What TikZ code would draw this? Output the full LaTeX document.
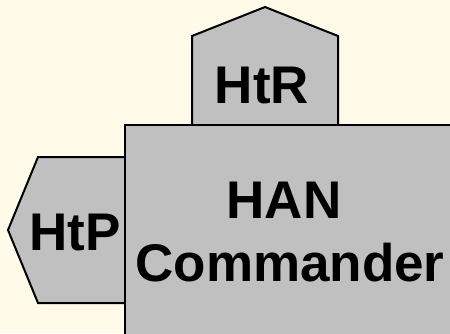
\documentclass[tikz,border=0pt]{standalone}
\usepackage{fontspec}
\setmainfont{Liberation Sans}
\definecolor{paper}{HTML}{FFFBE8}
\definecolor{boxgray}{HTML}{C0C0C0}
\tikzset{
  part/.style={draw=black, line width=2pt, fill=boxgray, line join=miter},
  label/.style={font=\bfseries\fontsize{53}{63}\selectfont, text=black, inner sep=0pt, anchor=base}
}
\begin{document}
\begin{tikzpicture}[x=1pt, y=-1pt]
  \useasboundingbox (0,0) rectangle (450,333);
  \fill[paper] (0,0) rectangle (450,333);
  \clip (0,0) rectangle (450,333);
  % receiver tab on top
  \draw[part] (192,125) -- (192,36) -- (265,7) -- (338,36) -- (338,125);
  % sender tab on the left
  \draw[part] (125,157) -- (38,157) -- (8,230) -- (38,303) -- (125,303);
  % main commander block, running off the right and bottom edges
  \draw[part] (125,345) -- (125,125) -- (460,125);
  \fill[boxgray] (126,126) rectangle (460,345);
  \node[label] (htr) at (262,103) {HtR};
  \node[label] (htp) at (75,250) {HtP};
  \node[label] (han) at (284,218) {HAN};
  \node[label] (cmd) at (290,281) {Commander};
\end{tikzpicture}
\end{document}
